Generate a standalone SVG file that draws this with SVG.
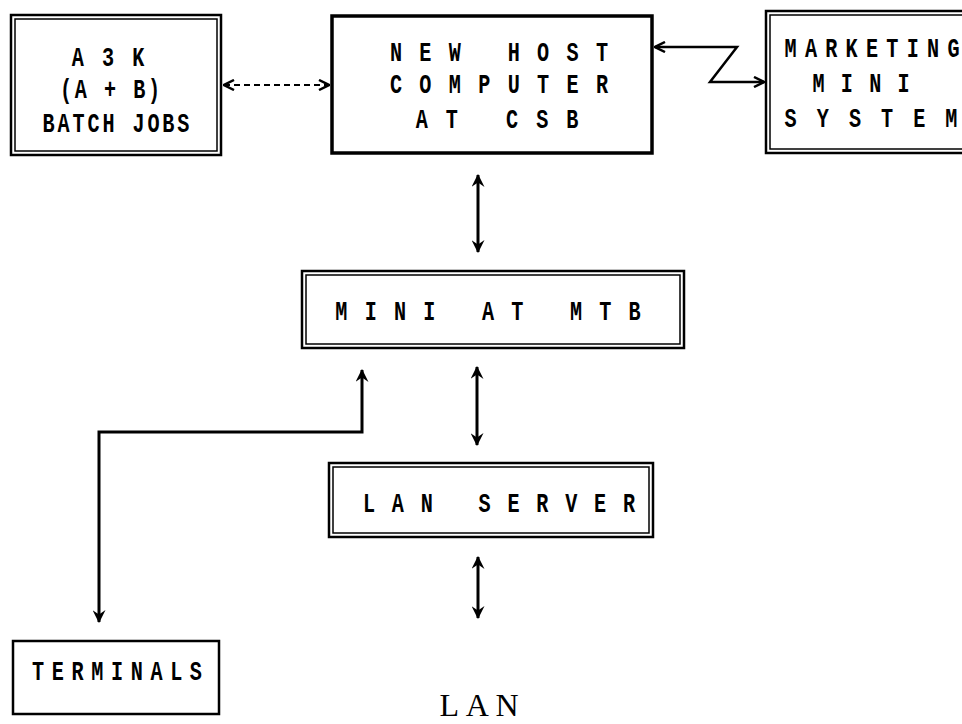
<svg xmlns="http://www.w3.org/2000/svg" width="962" height="724" viewBox="0 0 962 724">
<style>
.box{fill:none;stroke:#000;stroke-width:2.5}
.thin{fill:none;stroke:#000;stroke-width:1.5}
.t{font-family:"Liberation Mono",monospace;font-weight:bold;font-size:28px;fill:#000;white-space:pre}
.lan{font-family:"Liberation Serif",serif;font-size:32px;fill:#000}
.line{fill:none;stroke:#000;stroke-width:3}
.dash{fill:none;stroke:#000;stroke-width:1.8;stroke-dasharray:6 4}
</style>
<defs>
<marker id="ah" viewBox="0 0 12 12" refX="11" refY="6" markerWidth="13" markerHeight="13" markerUnits="userSpaceOnUse" orient="auto-start-reverse">
<path d="M0,0 L12,6 L0,12 L4,6 z" fill="#000"/>
</marker>
<marker id="ch" viewBox="0 0 12 12" refX="11" refY="6" markerWidth="12" markerHeight="12" markerUnits="userSpaceOnUse" orient="auto-start-reverse">
<path d="M1,1 L11,6 L1,11" fill="none" stroke="#000" stroke-width="2.5"/>
</marker>
</defs>
<rect width="962" height="724" fill="#fff"/>

<g id="a3k">
<rect class="box" x="11" y="15" width="210" height="140"/>
<rect class="thin" x="15" y="19" width="202" height="132"/>
<text class="t" xml:space="preserve" transform="translate(108,66) scale(0.72,1)" text-anchor="middle" textLength="101" lengthAdjust="spacing">A 3 K</text>
<text class="t" xml:space="preserve" transform="translate(110,98) scale(0.72,1)" text-anchor="middle" textLength="139" lengthAdjust="spacing">(A + B)</text>
<text class="t" xml:space="preserve" transform="translate(116,132) scale(0.72,1)" text-anchor="middle" textLength="204" lengthAdjust="spacing">BATCH JOBS</text>
</g>

<g id="host">
<rect x="332" y="16" width="320" height="137" fill="none" stroke="#000" stroke-width="3.5"/>
<text class="t" xml:space="preserve" transform="translate(499,61) scale(0.72,1)" text-anchor="middle" textLength="303" lengthAdjust="spacing">N E W   H O S T</text>
<text class="t" xml:space="preserve" transform="translate(499,93) scale(0.72,1)" text-anchor="middle" textLength="303" lengthAdjust="spacing">C O M P U T E R</text>
<text class="t" xml:space="preserve" transform="translate(497,128) scale(0.72,1)" text-anchor="middle" textLength="226" lengthAdjust="spacing">A T   C S B</text>
</g>

<g id="marketing">
<rect class="box" x="766" y="11" width="210" height="142"/>
<rect class="thin" x="770" y="15" width="202" height="134"/>
<text class="t" xml:space="preserve" transform="translate(872,57) scale(0.72,1)" text-anchor="middle" textLength="243" lengthAdjust="spacing">MARKETING</text>
<text class="t" xml:space="preserve" transform="translate(861,92) scale(0.72,1)" text-anchor="middle" textLength="135" lengthAdjust="spacing">M I N I</text>
<text class="t" xml:space="preserve" transform="translate(871,127) scale(0.72,1)" text-anchor="middle" textLength="240" lengthAdjust="spacing">S Y S T E M</text>
</g>

<g id="mini">
<rect class="box" x="302" y="271" width="382" height="77"/>
<rect class="thin" x="306" y="275" width="374" height="69"/>
<text class="t" xml:space="preserve" transform="translate(488,320) scale(0.72,1)" text-anchor="middle" textLength="424" lengthAdjust="spacing">M I N I   A T   M T B</text>
</g>

<g id="lanserver">
<rect class="box" x="329" y="463" width="324" height="74"/>
<rect class="thin" x="333" y="467" width="316" height="66"/>
<text class="t" xml:space="preserve" transform="translate(499,512) scale(0.72,1)" text-anchor="middle" textLength="378" lengthAdjust="spacing">L A N   S E R V E R</text>
</g>

<g id="terminals">
<rect class="box" x="13" y="641" width="206" height="73"/>
<text class="t" xml:space="preserve" transform="translate(117,680) scale(0.72,1)" text-anchor="middle" textLength="236" lengthAdjust="spacing">TERMINALS</text>
</g>

<g id="lan">
<text class="lan" x="479" y="716" text-anchor="middle" textLength="79" lengthAdjust="spacing">LAN</text>
</g>

<g id="connectors">
<path class="dash" d="M224,85 L329,85" marker-start="url(#ch)" marker-end="url(#ch)"/>
<path d="M655,47 L737,47 L710,82 L764,82" fill="none" stroke="#000" stroke-width="2.5" marker-start="url(#ch)" marker-end="url(#ch)"/>
<path class="line" d="M478,175 L478,252" marker-start="url(#ah)" marker-end="url(#ah)"/>
<path class="line" d="M477,367 L477,445" marker-start="url(#ah)" marker-end="url(#ah)"/>
<path class="line" d="M478,557 L478,618" marker-start="url(#ah)" marker-end="url(#ah)"/>
<path class="line" d="M362,370 L362,432 L99,432 L99,622" marker-start="url(#ah)" marker-end="url(#ah)"/>
</g>
</svg>
